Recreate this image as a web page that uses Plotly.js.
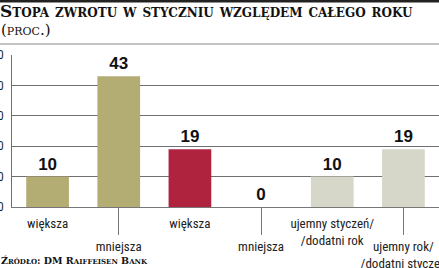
<!DOCTYPE html>
<html>
<head>
<meta charset="utf-8">
<script src="https://cdn.plot.ly/plotly-3.0.1.min.js"></script>
<style>
html,body{margin:0;padding:0;background:#fff;overflow:hidden;}
#chart{width:439px;height:268px;}
</style>
</head>
<body>
<div id="chart"></div>
<script>
// ---- data ----
var categories = ["większa", "mniejsza", "większa", "mniejsza", "ujemny styczeń/<br>/dodatni rok", "ujemny rok/<br>/dodatni styczeń"];
var values = [10, 43, 19, 0, 10, 19];
var barColors = ["#b3ad73", "#b3ad73", "#b0233f", "#b0233f", "#d6d6c9", "#d6d6c9"];
var yTickVals = [0, 10, 20, 30, 40, 50];
var titleText = "Stopa zwrotu w styczniu względem całego roku";
var unitText = "(proc.)";
var sourceText = "Źródło: DM Raiffeisen Bank";

// ---- derived ----
var xIdx = categories.map(function (c, i) { return i; });
var upperIdx = xIdx.filter(function (i) { return i % 2 === 0; });
var lowerIdx = xIdx.filter(function (i) { return i % 2 === 1; });

var W = 439, H = 268;
var m = {l: 12, r: 0, t: 55, b: 61};
var pw = W - m.l - m.r, ph = H - m.t - m.b;
function px2x(p) { return (p - m.l) / pw; }
function py2y(p) { return (H - m.b - p) / ph; }

var sans = "Liberation Sans Narrow, Roboto Condensed, DejaVu Sans Condensed, Liberation Sans, sans-serif";
var serif = "DejaVu Serif, serif";

var trace = {
  type: "bar",
  x: xIdx,
  y: values,
  width: 0.6,
  marker: {color: barColors, line: {width: 0}},
  text: values.map(String),
  textposition: "outside",
  textfont: {family: "Liberation Sans, Arial, sans-serif", size: 17, weight: "bold", color: "#111"},
  cliponaxis: false,
  hoverinfo: "skip"
};
var ghost = {type: "scatter", x: [], y: [], xaxis: "x2", yaxis: "y", showlegend: false};

var layout = {
  width: W, height: H,
  margin: m,
  paper_bgcolor: "#fff",
  plot_bgcolor: "#fff",
  showlegend: false,
  bargap: 0.4,
  title: {
    text: titleText,
    x: 0, xref: "container", xanchor: "left",
    y: 1 - 5 / H, yref: "container", yanchor: "top",
    pad: {l: 0, t: 0, r: 0, b: 0},
    font: {family: serif, size: 17, weight: "bold", variant: "small-caps", color: "#111"}
  },
  xaxis: {
    type: "linear", range: [-0.5, 5.5],
    tickvals: upperIdx, ticktext: upperIdx.map(function (i) { return categories[i]; }),
    ticks: "", showgrid: false, zeroline: false,
    showline: true, linecolor: "#777", linewidth: 1,
    ticklabelstandoff: 4, ticklabeloverflow: "allow",
    tickfont: {family: sans, size: 13, color: "#222"},
    fixedrange: true
  },
  xaxis2: {
    type: "linear", range: [-0.5, 5.5], overlaying: "x", anchor: "y", side: "bottom",
    tickvals: lowerIdx, ticktext: lowerIdx.map(function (i) { return categories[i]; }),
    ticks: "outside", ticklen: 27, tickcolor: "#777", tickwidth: 1,
    ticklabeloverflow: "allow",
    showgrid: false, zeroline: false, showline: false,
    tickfont: {family: sans, size: 13, color: "#222"},
    fixedrange: true
  },
  yaxis: {
    range: [0, 50], tickvals: yTickVals,
    showgrid: true, gridcolor: "#6f6f6f", gridwidth: 1,
    zeroline: false, showline: true, linecolor: "#6f6f6f", linewidth: 1,
    ticks: "", ticklabelstandoff: 5, ticklabeloverflow: "allow",
    tickfont: {family: sans, size: 12, color: "#222"},
    fixedrange: true
  },
  shapes: [
    {type: "line", xref: "paper", yref: "paper", x0: px2x(0), x1: px2x(W), y0: py2y(1), y1: py2y(1),
     line: {color: "#222", width: 3}},
    {type: "line", xref: "paper", yref: "paper", x0: px2x(0), x1: px2x(W), y0: py2y(44), y1: py2y(44),
     line: {color: "#888", width: 1}}
  ],
  annotations: [
    {text: unitText, xref: "paper", yref: "paper", x: px2x(-1), y: py2y(41), xanchor: "left", yanchor: "bottom",
     showarrow: false, font: {family: serif, size: 15, weight: "normal", variant: "small-caps", color: "#111"}},
    {text: sourceText, xref: "paper", yref: "paper", x: px2x(-1), y: py2y(268), xanchor: "left", yanchor: "bottom",
     showarrow: false, font: {family: serif, size: 9.5, weight: "bold", variant: "small-caps", color: "#111"}}
  ]
};

Plotly.newPlot("chart", [trace, ghost], layout, {staticPlot: true, displayModeBar: false});
</script>
</body>
</html>
